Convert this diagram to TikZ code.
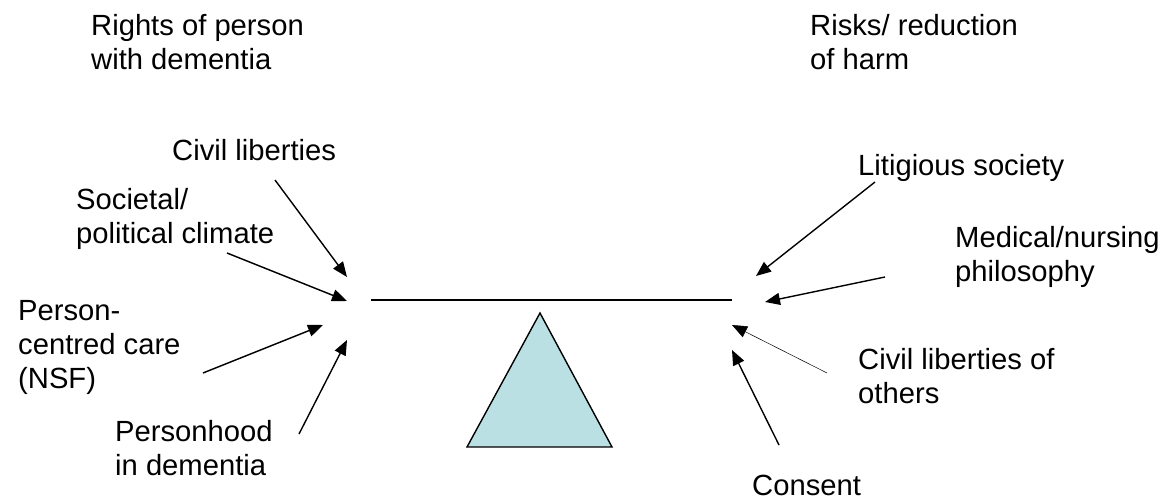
\documentclass[tikz,border=0pt]{standalone}
\usepackage{fontspec}
\setmainfont{Liberation Sans}
\usetikzlibrary{arrows.meta}
\definecolor{fulcrum}{HTML}{BBE0E3}
\begin{document}
\begin{tikzpicture}[x=1pt,y=-1pt,
  lbl/.style={anchor=west,inner sep=0pt,align=left,
    font=\fontsize{29.2}{34}\selectfont},
  force/.style={line width=1.4pt,-{Triangle[length=15pt,width=12pt]}},
  thinforce/.style={line width=0.5pt,-{Triangle[length=15pt,width=12pt]}}]
\useasboundingbox (0,0) rectangle (1170,500);

% headings
\node[lbl] (rights) at (91,42) {Rights of person\\with dementia};
\node[lbl] (risks) at (810,42) {Risks/ reduction\\of harm};

% left-hand factors
\node[lbl] (civil) at (172,150) {Civil liberties};
\node[lbl] (soc) at (76,219) {Societal/\\political climate};
\node[lbl] (pcc) at (18,347) {Person-\\centred care\\(NSF)};
\node[lbl] (phood) at (115,448) {Personhood\\in dementia};

% right-hand factors
\node[lbl] (litig) at (858,168) {Litigious society};
\node[lbl] (med) at (955,257) {Medical/nursing\\philosophy};
\node[lbl] (others) at (858,376) {Civil liberties of\\others};
\node[lbl] (consent) at (752,485) {Consent};

% beam and fulcrum
\coordinate (beamL) at (371,300);
\coordinate (beamR) at (732,300);
\draw[line width=1.4pt] (beamL) -- (beamR);
\coordinate (apex) at (540,313);
\coordinate (baseL) at (467,447);
\coordinate (baseR) at (612,447);
\draw[line width=1.4pt,fill=fulcrum,line join=miter] (apex) -- (baseR) -- (baseL) -- cycle;

% arrow ends, left side
\coordinate (a1s) at (275,180); \coordinate (a1e) at (347,277);
\coordinate (a2s) at (227,253); \coordinate (a2e) at (347,301);
\coordinate (a3s) at (203,373); \coordinate (a3e) at (323,325);
\coordinate (a4s) at (299,434); \coordinate (a4e) at (347,340);
\draw[force] (a1s) -- (a1e);
\draw[force] (a2s) -- (a2e);
\draw[force] (a3s) -- (a3e);
\draw[force] (a4s) -- (a4e);

% arrow ends, right side
\coordinate (b1s) at (875,182); \coordinate (b1e) at (756,276);
\coordinate (b2s) at (885,277); \coordinate (b2e) at (765,302);
\coordinate (b3s) at (827,373); \coordinate (b3e) at (732,325);
\coordinate (b4s) at (779,445); \coordinate (b4e) at (732,350);
\draw[force] (b1s) -- (b1e);
\draw[force] (b2s) -- (b2e);
\draw[thinforce] (b3s) -- (b3e);
\draw[force] (b4s) -- (b4e);
\end{tikzpicture}
\end{document}
